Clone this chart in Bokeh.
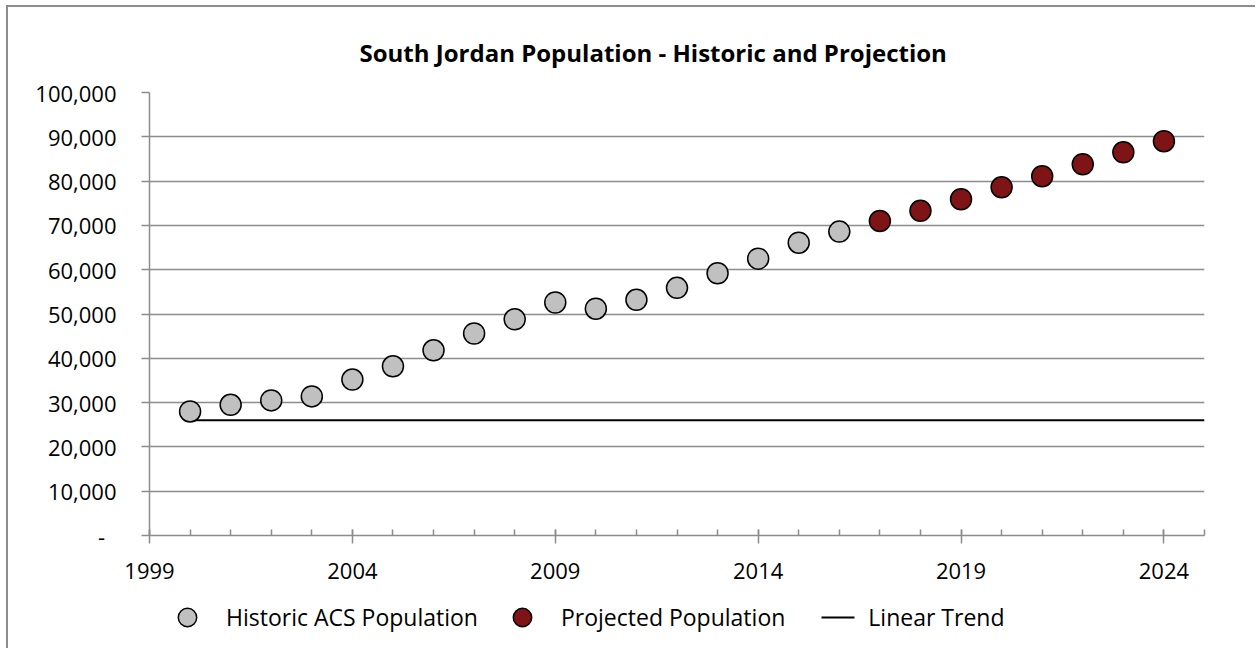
from bokeh.plotting import figure
from bokeh.layouts import column
from bokeh.models import Range1d, FixedTicker, NumeralTickFormatter, Legend, LegendItem, Title
from bokeh.embed import file_html
from bokeh.resources import INLINE

FONT = "Open Sans"

title_text = "South Jordan Population - Historic and Projection"

hist_years = [2000, 2001, 2002, 2003, 2004, 2005, 2006, 2007, 2008,
              2009, 2010, 2011, 2012, 2013, 2014, 2015, 2016]
hist_pop = [28000, 29500, 30500, 31400, 35200, 38200, 41800, 45600, 48800,
            52600, 51200, 53200, 55900, 59200, 62500, 66100, 68600]

proj_years = [2017, 2018, 2019, 2020, 2021, 2022, 2023, 2024]
proj_pop = [71000, 73300, 75900, 78600, 81100, 83800, 86500, 89000]

trend_years = [2000, 2025]
trend_pop = [26000, 26000]

x_major_ticks = [1999, 2004, 2009, 2014, 2019, 2024]
x_minor_ticks = list(range(1999, 2026))
y_ticks = [0, 10000, 20000, 30000, 40000, 50000, 60000, 70000, 80000, 90000, 100000]

legend_labels = ["Historic ACS Population", "Projected Population", "Linear Trend"]

GRID = "#8c8c8c"
GRAY_FILL = "#c0c0c0"
RED_FILL = "#7f1416"

# ---------------- main chart ----------------
p1 = figure(width=1247, height=585,
            x_range=Range1d(1999, 2025), y_range=Range1d(0, 100000),
            output_backend="svg", toolbar_location=None,
            min_border_left=141, min_border_right=51,
            min_border_top=85, min_border_bottom=57)
p1.outline_line_color = None
p1.background_fill_color = "white"
p1.border_fill_color = "white"

title = Title(text=title_text, align="left", offset=210, standoff=48,
              text_font=FONT, text_font_size="24px", text_font_style="bold",
              text_color="black")
p1.add_layout(title, "above")

p1.yaxis.ticker = FixedTicker(ticks=y_ticks)
p1.yaxis.formatter = NumeralTickFormatter(format="0,0")
p1.yaxis.major_label_overrides = {0: "-\u00a0\u00a0"}
p1.yaxis.major_label_text_font = FONT
p1.yaxis.major_label_text_font_size = "22px"
p1.yaxis.major_label_text_color = "black"
p1.yaxis.major_label_standoff = 25
p1.yaxis.major_tick_in = 0
p1.yaxis.major_tick_out = 8
p1.yaxis.minor_tick_line_color = None
p1.yaxis.axis_line_color = GRID
p1.yaxis.axis_line_width = 1.5
p1.yaxis.major_tick_line_color = GRID
p1.yaxis.major_tick_line_width = 1.5

p1.xaxis.ticker = FixedTicker(ticks=x_major_ticks, minor_ticks=x_minor_ticks)
p1.xaxis.major_label_text_font = FONT
p1.xaxis.major_label_text_font_size = "22px"
p1.xaxis.major_label_text_color = "black"
p1.xaxis.major_label_standoff = 19
p1.xaxis.major_tick_in = 6
p1.xaxis.major_tick_out = 8
p1.xaxis.minor_tick_in = 6
p1.xaxis.minor_tick_out = 0
p1.xaxis.axis_line_color = GRID
p1.xaxis.axis_line_width = 1.5
p1.xaxis.major_tick_line_color = GRID
p1.xaxis.major_tick_line_width = 1.5
p1.xaxis.minor_tick_line_color = GRID
p1.xaxis.minor_tick_line_width = 1.5

p1.xgrid.grid_line_color = None
p1.ygrid.ticker = FixedTicker(ticks=y_ticks)
p1.ygrid.grid_line_color = GRID
p1.ygrid.grid_line_width = 1.5

p1.line(trend_years, trend_pop, line_color="black", line_width=2)
p1.scatter(hist_years, hist_pop, size=21, fill_color=GRAY_FILL,
           line_color="black", line_width=1.5)
p1.scatter(proj_years, proj_pop, size=21, fill_color=RED_FILL,
           line_color="black", line_width=1.5)

# ---------------- legend strip ----------------
# same series drawn again, outside this strip's visible range, only to key the legend
p2 = figure(width=1247, height=56, x_range=Range1d(0, 1), y_range=Range1d(0, 1),
            x_axis_type=None, y_axis_type=None,
            output_backend="svg", toolbar_location=None,
            min_border=0)
p2.outline_line_color = None
p2.xgrid.grid_line_color = None
p2.ygrid.grid_line_color = None
p2.background_fill_color = "white"
p2.border_fill_color = "white"

k_hist = p2.scatter(hist_years, hist_pop, fill_color=GRAY_FILL,
                    line_color="black", line_width=1.5)
k_proj = p2.scatter(proj_years, proj_pop, fill_color=RED_FILL,
                    line_color="black", line_width=1.5)
k_trend = p2.line(trend_years, trend_pop, line_color="black", line_width=2,
                  line_dash="0 30 33 100")

legend = Legend(items=[LegendItem(label=legend_labels[0], renderers=[k_hist]),
                       LegendItem(label=legend_labels[1], renderers=[k_proj]),
                       LegendItem(label=legend_labels[2], renderers=[k_trend])],
                orientation="horizontal", location=(0, 8),
                glyph_width=76, glyph_height=46, label_standoff=1, spacing=6,
                padding=0, margin=0,
                label_text_font=FONT, label_text_font_size="23px",
                label_text_color="black",
                border_line_color=None, background_fill_alpha=0)
p2.add_layout(legend)

layout = column(p1, p2, spacing=0,
                styles={"margin-left": "6px", "margin-top": "5px",
                        "border-left": "2px solid #8c8c8c",
                        "border-top": "2px solid #8c8c8c"})

open("out.html", "w").write(file_html(layout, INLINE))
